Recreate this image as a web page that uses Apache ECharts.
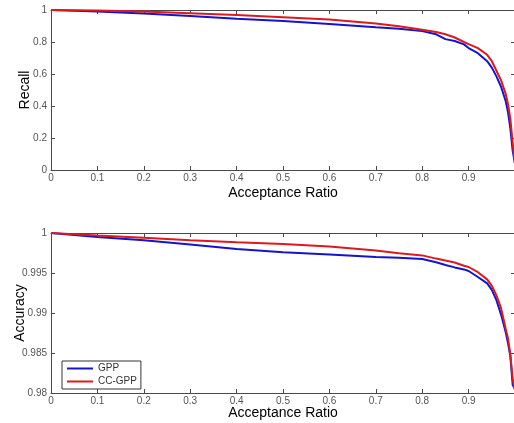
<!DOCTYPE html>
<html>
<head>
<meta charset="utf-8">
<script src="https://cdn.jsdelivr.net/npm/echarts@6/dist/echarts.min.js"></script>
<style>
html,body{margin:0;padding:0;background:#fff;}
#c{width:514px;height:423px;}
</style>
</head>
<body>
<div id="c"></div>
<script>
// Acceptance ratio grid (x)
var ratio = [0, 0.1, 0.2, 0.3, 0.4, 0.5, 0.6, 0.7, 0.75, 0.8, 0.83, 0.85, 0.87, 0.89, 0.9, 0.92, 0.94, 0.95, 0.96, 0.97, 0.98, 0.985, 0.99, 0.995, 1.0];
var recallGPP = [1.0, 0.99, 0.978, 0.962, 0.945, 0.932, 0.912, 0.892, 0.883, 0.868, 0.848, 0.818, 0.806, 0.785, 0.762, 0.73, 0.68, 0.64, 0.585, 0.52, 0.43, 0.36, 0.26, 0.12, 0.04];
var recallCC = [1.0, 0.997, 0.99, 0.98, 0.968, 0.955, 0.94, 0.915, 0.898, 0.876, 0.863, 0.848, 0.828, 0.80, 0.787, 0.762, 0.72, 0.68, 0.62, 0.56, 0.475, 0.41, 0.32, 0.17, 0.04];
var accGPP = [1.0, 0.9995, 0.9991, 0.99855, 0.998, 0.9976, 0.9973, 0.997, 0.9969, 0.99675, 0.99635, 0.996, 0.9957, 0.99545, 0.99525, 0.9945, 0.9937, 0.9929, 0.9916, 0.9898, 0.9876, 0.9862, 0.9846, 0.981, 0.9805];
var accCC = [1.0, 0.9997, 0.99942, 0.99909, 0.99884, 0.99862, 0.9983, 0.9978, 0.99746, 0.9972, 0.9968, 0.99655, 0.99632, 0.9959, 0.99575, 0.9951, 0.9942, 0.9934, 0.9922, 0.9906, 0.988, 0.9868, 0.9848, 0.9818, 0.9803];
var xTicks = [0, 0.1, 0.2, 0.3, 0.4, 0.5, 0.6, 0.7, 0.8, 0.9];
var recallTicks = [0, 0.2, 0.4, 0.6, 0.8, 1];
var accTicks = [0.98, 0.985, 0.99, 0.995, 1];
var seriesNames = ['GPP', 'CC-GPP'];
var colors = ['#1414c8', '#dc1a1e'];

function pairs(xs, ys){ return xs.map(function(x,i){ return [x, ys[i]]; }); }

var FONT = 'Liberation Sans, Arial, sans-serif';
var lineCol = '#4a4a4a';
var labelStyle = {color:'#555', fontSize:10, fontFamily:FONT};

function xAx(grid, top, showLab, gap){
  return {
    type:'value', gridIndex:grid, position: top?'top':'bottom', min:0, max:1, interval:0.1,
    axisLine:{show:true, onZero:false, lineStyle:{color:lineCol, width:1}},
    axisTick:{show:true, inside:true, length:4, lineStyle:{color:lineCol}},
    splitLine:{show:false},
    axisLabel:{show:showLab, margin:3, ...labelStyle,
      formatter:function(v){ var r=Math.round(v*10)/10; return xTicks.indexOf(r)>=0 ? String(r) : ''; }},
    name: showLab ? 'Acceptance Ratio' : '', nameLocation:'middle', nameGap:gap || 15, nameMoveOverlap:false,
    nameTextStyle:{color:'#000', fontSize:14, fontFamily:FONT}
  };
}
function yAx(grid, right, min, max, interval, ticks, name, gap){
  return {
    type:'value', gridIndex:grid, position: right?'right':'left', min:min, max:max, interval:interval,
    axisLine:{show:true, onZero:false, lineStyle:{color:lineCol, width:1}},
    axisTick:{show:true, inside:true, length:4, lineStyle:{color:lineCol}},
    splitLine:{show:false},
    axisLabel:{show:!right, margin:4, ...labelStyle,
      formatter:function(v){ var r=Math.round(v*1000)/1000; return ticks.indexOf(r)>=0 ? String(r) : ''; }},
    name: right ? '' : name, nameLocation:'middle', nameGap:gap, nameMoveOverlap:false,
    nameTextStyle:{color:'#000', fontSize:14, fontFamily:FONT}
  };
}

var chart = echarts.init(document.getElementById('c'), null, {renderer:'canvas'});
chart.setOption({
  backgroundColor:'#fff',
  animation:false,
  grid:[
    {left:51, top:10, width:464, height:160, show:false, containLabel:false, outerBoundsMode:'none'},
    {left:51, top:233, width:464, height:160, show:false, containLabel:false, outerBoundsMode:'none'}
  ],
  xAxis:[ xAx(0,false,true,16), xAx(0,true,false), xAx(1,false,true,13), xAx(1,true,false) ],
  yAxis:[
    yAx(0,false,0,1,0.2,recallTicks,'Recall',19),
    yAx(0,true,0,1,0.2,recallTicks,'',0),
    yAx(1,false,0.98,1,0.005,accTicks,'Accuracy',24),
    yAx(1,true,0.98,1,0.005,accTicks,'',0)
  ],
  legend:{
    data:seriesNames, orient:'vertical', left:62, top:361,
    icon:'rect', itemWidth:26, itemHeight:2, itemGap:0, itemTextGap:3,
    padding:[1,4,1,5], borderColor:'#333', borderWidth:1, backgroundColor:'#fff',
    textStyle:{color:'#333', fontSize:10, lineHeight:13, fontFamily:FONT}
  },
  series:[
    {name:seriesNames[0], type:'line', xAxisIndex:0, yAxisIndex:0, data:pairs(ratio, recallGPP), showSymbol:false, lineStyle:{width:2, color:colors[0]}, itemStyle:{color:colors[0]}, z:3},
    {name:seriesNames[1], type:'line', xAxisIndex:0, yAxisIndex:0, data:pairs(ratio, recallCC), showSymbol:false, lineStyle:{width:2, color:colors[1]}, itemStyle:{color:colors[1]}, z:4},
    {name:seriesNames[0], type:'line', xAxisIndex:2, yAxisIndex:2, data:pairs(ratio, accGPP), showSymbol:false, lineStyle:{width:2, color:colors[0]}, itemStyle:{color:colors[0]}, z:3},
    {name:seriesNames[1], type:'line', xAxisIndex:2, yAxisIndex:2, data:pairs(ratio, accCC), showSymbol:false, lineStyle:{width:2, color:colors[1]}, itemStyle:{color:colors[1]}, z:4}
  ]
});
</script>
</body>
</html>
